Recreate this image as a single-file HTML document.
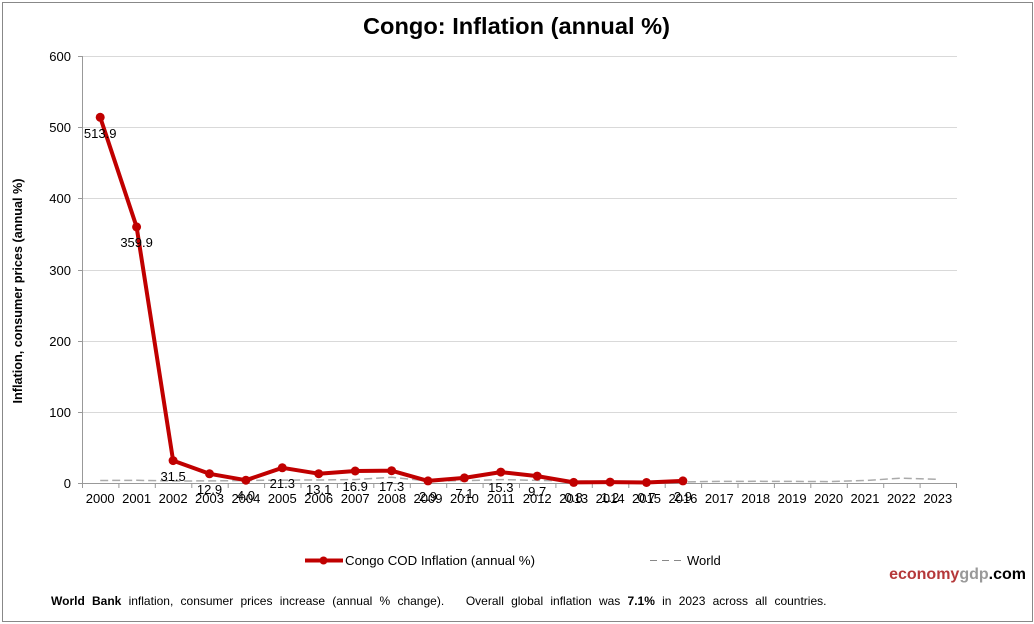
<!DOCTYPE html>
<html><head><meta charset="utf-8"><style>
html,body{margin:0;padding:0;background:#fff;}
svg{display:block;font-family:"Liberation Sans",Arial,sans-serif;}
</style></head><body>
<svg width="1034" height="624" viewBox="0 0 1034 624" xmlns="http://www.w3.org/2000/svg">
<rect x="0" y="0" width="1034" height="624" fill="#fff"/>
<rect x="2.5" y="2.5" width="1030" height="619" fill="none" stroke="#888" stroke-width="1"/>
<text x="363" y="34" font-size="23" font-weight="bold" fill="#000" textLength="307" lengthAdjust="spacingAndGlyphs">Congo: Inflation (annual %)</text>
<!-- gridlines -->
<g stroke="#d9d9d9" stroke-width="1">
<line x1="82" y1="56.5" x2="957" y2="56.5"/>
<line x1="82" y1="127.5" x2="957" y2="127.5"/>
<line x1="82" y1="198.5" x2="957" y2="198.5"/>
<line x1="82" y1="270.5" x2="957" y2="270.5"/>
<line x1="82" y1="341.5" x2="957" y2="341.5"/>
<line x1="82" y1="412.5" x2="957" y2="412.5"/>
</g>
<!-- axes -->
<g stroke="#999" stroke-width="1">
<line x1="82.5" y1="56" x2="82.5" y2="483"/>
<line x1="78" y1="483.5" x2="957" y2="483.5"/>
<line x1="78" y1="56.5" x2="82" y2="56.5"/>
<line x1="78" y1="127.5" x2="82" y2="127.5"/>
<line x1="78" y1="198.5" x2="82" y2="198.5"/>
<line x1="78" y1="270.5" x2="82" y2="270.5"/>
<line x1="78" y1="341.5" x2="82" y2="341.5"/>
<line x1="78" y1="412.5" x2="82" y2="412.5"/>
</g>
<g font-size="13" fill="#000" text-anchor="end">
<text x="71" y="61">600</text>
<text x="71" y="132">500</text>
<text x="71" y="203">400</text>
<text x="71" y="275">300</text>
<text x="71" y="346">200</text>
<text x="71" y="417">100</text>
<text x="71" y="488">0</text>
</g>
<text transform="translate(22,291) rotate(-90)" text-anchor="middle" font-size="12.5" font-weight="bold" fill="#000" textLength="225" lengthAdjust="spacingAndGlyphs">Inflation, consumer prices (annual %)</text>
<!-- x ticks -->
<g stroke="#999" stroke-width="1">
<line x1="82.5" y1="483" x2="82.5" y2="488"/><line x1="118.9" y1="483" x2="118.9" y2="488"/><line x1="155.3" y1="483" x2="155.3" y2="488"/><line x1="191.8" y1="483" x2="191.8" y2="488"/><line x1="228.2" y1="483" x2="228.2" y2="488"/><line x1="264.6" y1="483" x2="264.6" y2="488"/><line x1="301" y1="483" x2="301" y2="488"/><line x1="337.4" y1="483" x2="337.4" y2="488"/><line x1="373.8" y1="483" x2="373.8" y2="488"/><line x1="410.3" y1="483" x2="410.3" y2="488"/><line x1="446.7" y1="483" x2="446.7" y2="488"/><line x1="483.1" y1="483" x2="483.1" y2="488"/><line x1="519.5" y1="483" x2="519.5" y2="488"/><line x1="555.9" y1="483" x2="555.9" y2="488"/><line x1="592.3" y1="483" x2="592.3" y2="488"/><line x1="628.8" y1="483" x2="628.8" y2="488"/><line x1="665.2" y1="483" x2="665.2" y2="488"/><line x1="701.6" y1="483" x2="701.6" y2="488"/><line x1="738" y1="483" x2="738" y2="488"/><line x1="774.4" y1="483" x2="774.4" y2="488"/><line x1="810.8" y1="483" x2="810.8" y2="488"/><line x1="847.3" y1="483" x2="847.3" y2="488"/><line x1="883.7" y1="483" x2="883.7" y2="488"/><line x1="920.1" y1="483" x2="920.1" y2="488"/><line x1="956.5" y1="483" x2="956.5" y2="488"/>
</g>
<g font-size="13" fill="#000" text-anchor="middle">
<text x="100.2" y="503">2000</text><text x="136.6" y="503">2001</text><text x="173.1" y="503">2002</text><text x="209.5" y="503">2003</text><text x="245.9" y="503">2004</text><text x="282.3" y="503">2005</text><text x="318.7" y="503">2006</text><text x="355.2" y="503">2007</text><text x="391.6" y="503">2008</text><text x="428" y="503">2009</text><text x="464.4" y="503">2010</text><text x="500.8" y="503">2011</text><text x="537.2" y="503">2012</text><text x="573.7" y="503">2013</text><text x="610.1" y="503">2014</text><text x="646.5" y="503">2015</text><text x="682.9" y="503">2016</text><text x="719.3" y="503">2017</text><text x="755.7" y="503">2018</text><text x="792.1" y="503">2019</text><text x="828.6" y="503">2020</text><text x="865" y="503">2021</text><text x="901.4" y="503">2022</text><text x="937.8" y="503">2023</text>
</g>
<!-- World series -->
<polyline fill="none" stroke="#aaa" stroke-width="1.5" stroke-dasharray="8,4" points="100.2,480.5 136.6,480.3 173.1,481 209.5,480.9 245.9,480.5 282.3,480.1 318.7,480 355.2,479.6 391.6,477.3 428,481 464.4,480.7 500.8,479.6 537.2,480.4 573.7,481.1 610.1,481.3 646.5,482 682.9,481.9 719.3,481.4 755.7,481.3 792.1,481.4 828.6,481.6 865,480.5 901.4,478.2 937.8,479.3"/>
<!-- Congo series -->
<polyline fill="none" stroke="#c00000" stroke-width="4" stroke-linejoin="round" points="100.2,117.3 136.6,226.9 173.1,460.6 209.5,473.8 245.9,480.2 282.3,467.8 318.7,473.7 355.2,471 391.6,470.7 428,480.9 464.4,477.9 500.8,472.1 537.2,476.1 573.7,482.4 610.1,482.1 646.5,482.5 682.9,480.9"/>
<g fill="#c00000">
<circle cx="100.2" cy="117.3" r="4.5"/><circle cx="136.6" cy="226.9" r="4.5"/><circle cx="173.1" cy="460.6" r="4.5"/><circle cx="209.5" cy="473.8" r="4.5"/><circle cx="245.9" cy="480.2" r="4.5"/><circle cx="282.3" cy="467.8" r="4.5"/><circle cx="318.7" cy="473.7" r="4.5"/><circle cx="355.2" cy="471" r="4.5"/><circle cx="391.6" cy="470.7" r="4.5"/><circle cx="428" cy="480.9" r="4.5"/><circle cx="464.4" cy="477.9" r="4.5"/><circle cx="500.8" cy="472.1" r="4.5"/><circle cx="537.2" cy="476.1" r="4.5"/><circle cx="573.7" cy="482.4" r="4.5"/><circle cx="610.1" cy="482.1" r="4.5"/><circle cx="646.5" cy="482.5" r="4.5"/><circle cx="682.9" cy="480.9" r="4.5"/>
</g>
<!-- data labels -->
<g font-size="13" fill="#000" text-anchor="middle">
<text x="100.2" y="138">513.9</text><text x="136.6" y="247">359.9</text><text x="173.1" y="481">31.5</text><text x="209.5" y="494">12.9</text><text x="245.9" y="500">4.0</text><text x="282.3" y="488">21.3</text><text x="318.7" y="494">13.1</text><text x="355.2" y="491">16.9</text><text x="391.6" y="491">17.3</text><text x="428" y="501">2.9</text><text x="464.4" y="498">7.1</text><text x="500.8" y="492">15.3</text><text x="537.2" y="496">9.7</text><text x="573.7" y="502">0.8</text><text x="610.1" y="502">1.2</text><text x="646.5" y="502">0.7</text><text x="682.9" y="501">2.9</text>
</g>
<!-- legend -->
<line x1="305" y1="560.5" x2="343" y2="560.5" stroke="#c00000" stroke-width="4"/>
<circle cx="323.5" cy="560.5" r="4" fill="#c00000"/>
<text x="345" y="565" font-size="13" fill="#000" textLength="190" lengthAdjust="spacingAndGlyphs">Congo COD Inflation (annual %)</text>
<line x1="650" y1="560.5" x2="682" y2="560.5" stroke="#888" stroke-width="1" stroke-dasharray="7,5"/>
<text x="687" y="565" font-size="13" fill="#000">World</text>
<!-- branding -->
<text x="1026" y="579" text-anchor="end" font-size="16" font-weight="bold"><tspan fill="#b5383a">economy</tspan><tspan fill="#999">gdp</tspan><tspan fill="#000">.com</tspan></text>
<!-- footer -->
<text x="51" y="605" font-size="12" fill="#000" xml:space="preserve" style="word-spacing:3.9px"><tspan font-weight="bold">World Bank</tspan> inflation, consumer prices increase (annual % change).   Overall global inflation was <tspan font-weight="bold">7.1%</tspan> in 2023 across all countries.</text>
</svg>
</body></html>
